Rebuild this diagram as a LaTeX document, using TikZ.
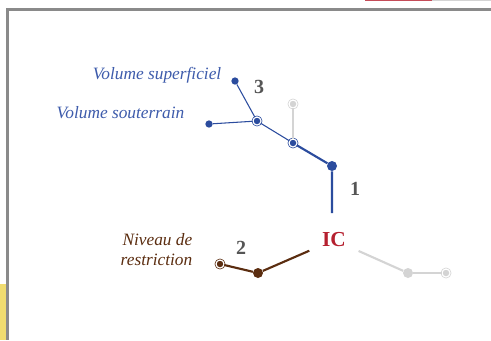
\documentclass[tikz,border=0pt]{standalone}
\usepackage{fontspec}
\setmainfont{Liberation Serif}
\usepackage{xcolor}
\usepackage{tikz}
\usetikzlibrary{positioning}

\definecolor{volblue}{HTML}{2B4C9E}
\definecolor{txtblue}{HTML}{3D5BAB}
\definecolor{niveaubrown}{HTML}{5B2D10}
\definecolor{paleg}{HTML}{D4D4D4}
\definecolor{icred}{HTML}{B5202F}
\definecolor{framegray}{HTML}{8A8A8A}
\definecolor{numgray}{HTML}{555555}
\definecolor{tabyellow}{HTML}{F0DC70}

\begin{document}
\begin{tikzpicture}[x=0.75pt, y=-0.75pt,
    dot/.style={circle, fill=#1, inner sep=0pt, minimum size=7.5pt},
    smalldot/.style={circle, fill=#1, inner sep=0pt, minimum size=5.5pt},
    ring/.style={circle, fill=#1, draw=#1, double=white, double distance=0.9pt, line width=0.55pt, inner sep=0pt, minimum size=6pt},
    num/.style={font=\bfseries\fontsize{15}{15}\selectfont, text=numgray},
    lbl/.style={font=\itshape\fontsize{13}{15}\selectfont, anchor=east}]
    \useasboundingbox (0,0) rectangle (491,340);
    % cadre
    \fill[tabyellow] (0,284) rectangle (6,340);
    \draw[framegray, line width=2pt] (491,9.5) -- (7.8,9.5) -- (7.8,340);
    \draw[icred!80, line width=1.2pt] (365,0.6) -- (432,0.6);
    \draw[paleg, line width=1.2pt] (432,0.6) -- (491,0.6);

    \node[circle, minimum size=40pt, inner sep=0pt, text=icred,
          font=\bfseries\fontsize{16}{16}\selectfont] (ic) at (334,240) {IC};

    % branche 1
    \node[dot=volblue] (v1) at (332,166) {};
    \node[ring=volblue] (v2) at (293,143) {};
    \node[ring=paleg] (g0) at (293,104) {};
    \node[ring=volblue] (v3) at (257,121) {};
    \node[smalldot=volblue] (sup) at (235,81) {};
    \node[smalldot=volblue] (sout) at (209,124) {};
    \draw[volblue, line width=1.6pt] (v1 |- ic.north) -- (v1) -- (v2);
    \draw[paleg, line width=1pt] (v2) -- (g0);
    \draw[volblue, line width=0.8pt] (v2) -- (v3) -- (sup);
    \draw[volblue, line width=0.8pt] (v3) -- (sout);
    \node[lbl, text=txtblue] (lsup) at (226,75) {Volume superficiel};
    \node[lbl, text=txtblue] (lsout) at (189,113) {Volume souterrain};
    \node[num] (n3) at (259,87) {3};
    \node[num] (n1) at (355,189) {1};

    % branche 2
    \node[dot=niveaubrown] (b1) at (258,273) {};
    \node[ring=niveaubrown] (b2) at (220,264) {};
    \draw[niveaubrown, line width=1.6pt] (ic) -- (b1) -- (b2);
    \node[lbl, text=niveaubrown, align=right] (lniv) at (197,250) {Niveau de\\restriction};
    \node[num] (n2) at (241,248) {2};

    % branche grise
    \node[dot=paleg] (g1) at (408,273) {};
    \node[ring=paleg] (g2) at (446,273) {};
    \draw[paleg, line width=1.6pt] (ic) -- (g1);
    \draw[paleg, line width=1.2pt] (g1) -- (g2);
\end{tikzpicture}
\end{document}
